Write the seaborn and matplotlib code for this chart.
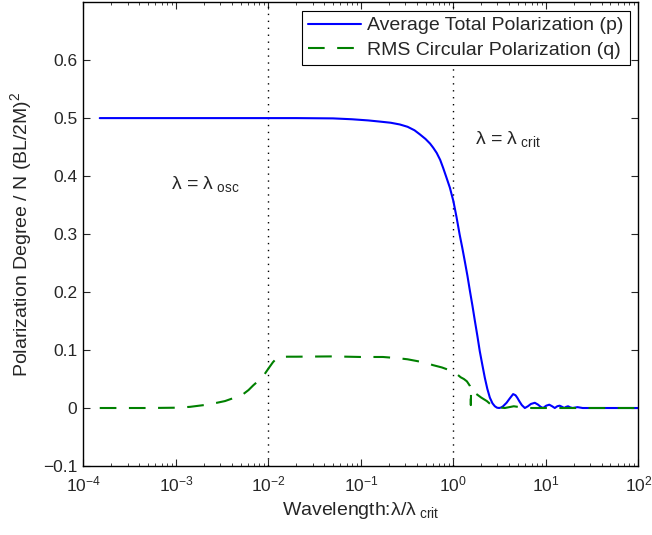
import numpy as np
import pandas as pd
import matplotlib
matplotlib.use("Agg")
import matplotlib.pyplot as plt
import matplotlib.ticker as ticker
import seaborn as sns

# values
lam_p = [1.5e-4, 1e-3, 1e-2, 0.02, 0.05, 0.08, 0.12, 0.16, 0.21, 0.264, 0.32,
         0.38, 0.434, 0.5, 0.56, 0.605, 0.66, 0.72, 0.776, 0.84, 0.917, 1.0,
         1.08, 1.17, 1.25, 1.33, 1.42, 1.51, 1.61, 1.71, 1.82, 1.93, 2.06, 2.19,
         2.33, 2.48, 2.65, 2.81, 2.97, 3.13, 3.3, 3.45, 3.6, 3.76, 4.05, 4.43,
         4.7, 4.9, 5.2, 5.5, 5.93, 6.4, 6.9, 7.6, 8.2, 8.8, 9.35, 10.1, 10.9,
         11.7, 12.5, 13.3, 14.1, 15.0, 15.8, 16.6, 17.4, 18.4, 19.5, 22.0, 25.0,
         100.0]
p_avg = [0.5, 0.5, 0.5, 0.5, 0.4995, 0.498, 0.496, 0.494, 0.492, 0.489, 0.485,
         0.479, 0.472, 0.464, 0.456, 0.449, 0.440, 0.428, 0.414, 0.398, 0.380, 0.357,
         0.330, 0.299, 0.276, 0.253, 0.228, 0.202, 0.176, 0.150, 0.124, 0.098, 0.074, 0.052,
         0.033, 0.018, 0.008, 0.003, 0.0005, 0.0, 0.001, 0.003, 0.006, 0.009, 0.016, 0.024,
         0.022, 0.018, 0.011, 0.005, 0.0, 0.003, 0.007, 0.009, 0.006, 0.002, 0.0, 0.004, 0.0057,
         0.003, 0.0, 0.003, 0.004, 0.002, 0.0, 0.002, 0.003, 0.001, 0.0, 0.0015, 0.0,
         0.0]

lam_q = [1.5e-4, 5e-4, 1e-3, 1.42e-3, 2e-3, 2.77e-3, 3.4e-3, 4.0e-3, 4.7e-3, 5.35e-3,
         6.1e-3, 6.85e-3, 7.8e-3, 8.8e-3, 1.0e-2, 1.12e-2, 1.23e-2, 1.35e-2, 1.6e-2,
         2e-2, 5e-2, 0.1, 0.173, 0.25, 0.32, 0.403, 0.5, 0.6, 0.75, 0.917, 1.0, 1.1,
         1.2, 1.3, 1.4, 1.47, 1.51, 1.535, 1.545, 1.555, 1.71, 2.0, 2.3, 2.67, 3.1,
         3.6, 4.5, 5.5, 7.0, 100.0]
q_rms = [0.0, 0.0, 0.0005, 0.002, 0.005, 0.009, 0.012, 0.016, 0.020, 0.024,
         0.031, 0.039, 0.047, 0.055, 0.068, 0.079, 0.086, 0.088, 0.0885,
         0.0885, 0.089, 0.088, 0.088, 0.086, 0.084, 0.081, 0.078, 0.074, 0.070, 0.065, 0.062, 0.058,
         0.053, 0.050, 0.046, 0.041, 0.038, 0.034, 0.005, 0.032, 0.026, 0.018, 0.012, 0.003, 0.001,
         0.0, 0.003, 0.001, 0.0, 0.0]

x_ticks = [1e-4, 1e-3, 1e-2, 1e-1, 1e0, 1e1, 1e2]
y_ticks = [-0.1, 0, 0.1, 0.2, 0.3, 0.4, 0.5, 0.6]

df_p = pd.DataFrame({"lam": lam_p, "val": p_avg})
df_q = pd.DataFrame({"lam": lam_q, "val": q_rms})

sns.set_style("ticks")
plt.rcParams['font.family'] = ['Liberation Sans', 'DejaVu Sans']
plt.rcParams['mathtext.fontset'] = 'custom'
plt.rcParams['mathtext.rm'] = 'Liberation Sans'
plt.rcParams['mathtext.it'] = 'Liberation Sans:italic'
plt.rcParams['mathtext.bf'] = 'Liberation Sans:bold'

fig = plt.figure(figsize=(6.52, 5.35), dpi=100)
ax = fig.add_axes([0.128, 0.129, 0.851, 0.867])

ax.axvline(1e-2, color="black", lw=1, ls=(0, (1, 4)))
ax.axvline(1e0, color="black", lw=1, ls=(0, (1, 4)))

sns.lineplot(data=df_p, x="lam", y="val", ax=ax, color="#0000ff", lw=1.5,
             sort=False, estimator=None, label="Average Total Polarization (p)")
sns.lineplot(data=df_q, x="lam", y="val", ax=ax, color="#008000", lw=1.5,
             sort=False, estimator=None, dashes=False, linestyle=(0, (8, 6)),
             label="RMS Circular Polarization (q)")

ax.set_xscale("log")
ax.set_xlim(1e-4, 1e2)
ax.set_ylim(-0.1, 0.7)
ax.set_xticks(x_ticks)
ax.set_yticks(y_ticks)
ax.yaxis.set_major_formatter(ticker.FuncFormatter(
    lambda v, pos: "0" if abs(v) < 1e-9 else ("%.1f" % v).replace("-", "\u2212")))
ax.xaxis.set_major_formatter(ticker.LogFormatterSciNotation())
ax.xaxis.set_minor_locator(ticker.LogLocator(base=10, subs=np.arange(2, 10), numticks=20))
ax.xaxis.set_minor_formatter(ticker.NullFormatter())

ax.tick_params(which="both", direction="in", top=True, right=True, labelsize=12.5)
ax.tick_params(which="major", length=5, width=0.8)
ax.tick_params(which="minor", length=2.5, width=0.6)
ax.tick_params(axis="x", which="major", pad=6)
ax.tick_params(axis="y", which="major", pad=4.5)
for s in ax.spines.values():
    s.set_linewidth(1.0)
    s.set_color("black")

ax.text(8.8e-4, 0.378, "\u03bb = \u03bb$_{\\rm\\ osc}$", fontsize=14, ha="left", va="baseline")
ax.text(1.71, 0.456, "\u03bb = \u03bb$_{\\rm\\ crit}$", fontsize=14, ha="left", va="baseline")

ax.set_xlabel("Wavelength:\u03bb/\u03bb$_{\\rm\\ crit}$", fontsize=14, labelpad=4)
ax.set_ylabel("Polarization Degree / N (BL/2M)$^2$", fontsize=14, labelpad=6)

leg = ax.legend(loc="upper right", fontsize=14, frameon=True, fancybox=False,
                edgecolor="black", framealpha=1, borderaxespad=0.45,
                handlelength=2.7, handletextpad=0.35, labelspacing=0.35, borderpad=0.3)
leg.get_frame().set_linewidth(0.8)

plt.savefig("out.png", dpi=100)
